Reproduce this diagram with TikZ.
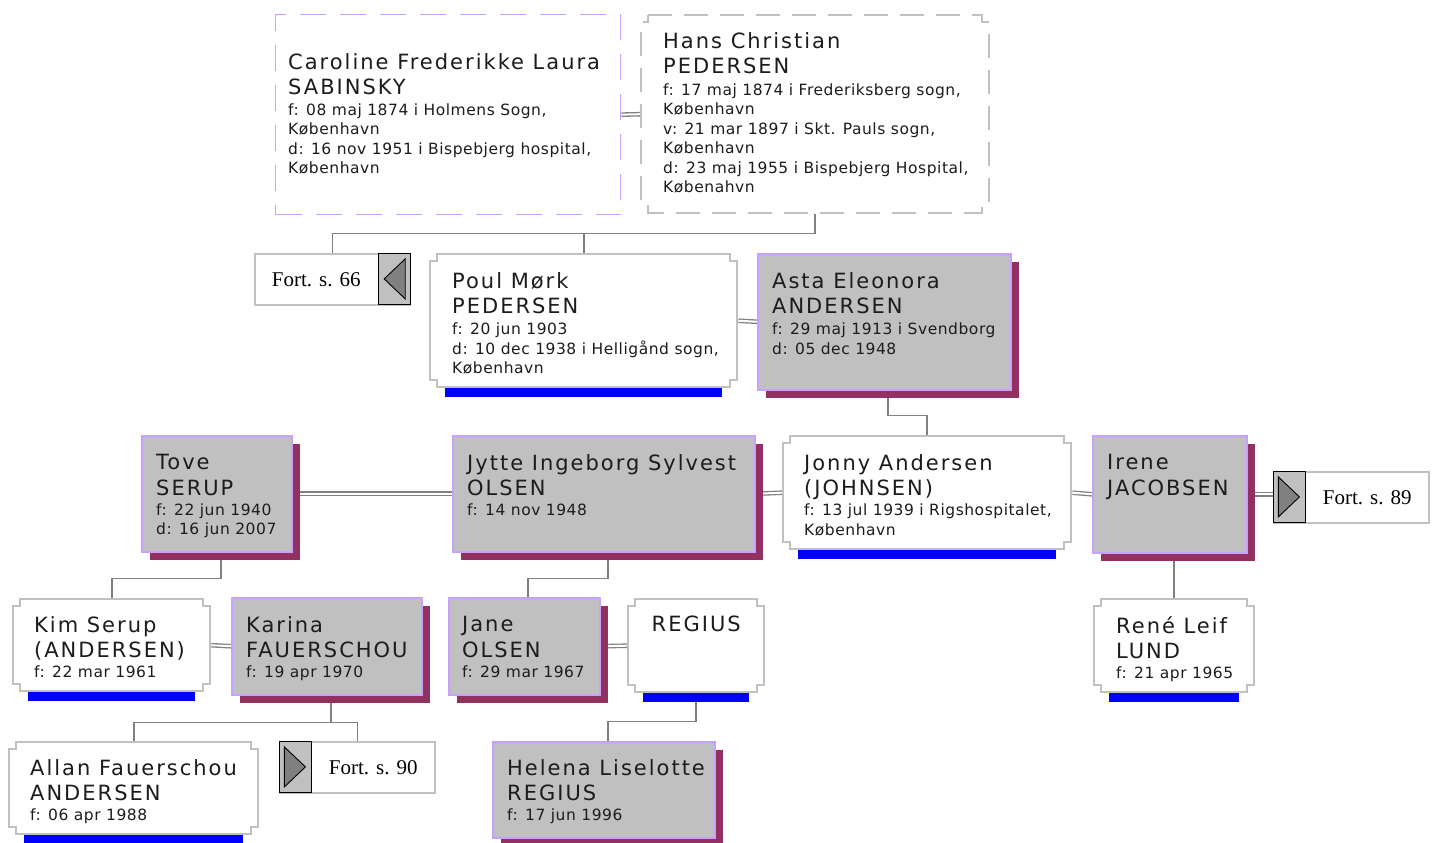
\documentclass[tikz,border=0pt]{standalone}
\usepackage{fontspec}
\setmainfont{Liberation Serif}
\newfontfamily\namefont[LetterSpace=9.5]{DejaVu Sans}
\newfontfamily\datafont[LetterSpace=3.5]{DejaVu Sans}
\newcommand\nm{\namefont\fontsize{21}{25}\selectfont}
\newcommand\dt{\datafont\fontsize{15.5}{19.5}\selectfont\lineskiplimit=-50pt\relax}
\usetikzlibrary{positioning,shadows,backgrounds}

\definecolor{boxgray}{RGB}{192,192,192}
\definecolor{lilac}{RGB}{200,160,255}
\definecolor{plum}{RGB}{146,48,96}
\definecolor{linegray}{RGB}{128,128,128}
\definecolor{inkc}{RGB}{28,28,28}

% outline with stepped corners, drawn inside the node
\newcommand\notchline[1]{%
  \draw[#1] ([shift={(8pt,-1pt)}]path picture bounding box.north west)
    -- ([shift={(-8pt,-1pt)}]path picture bounding box.north east)
    -- ([shift={(-8pt,-8pt)}]path picture bounding box.north east)
    -- ([shift={(-1pt,-8pt)}]path picture bounding box.north east)
    -- ([shift={(-1pt,8pt)}]path picture bounding box.south east)
    -- ([shift={(-8pt,8pt)}]path picture bounding box.south east)
    -- ([shift={(-8pt,1pt)}]path picture bounding box.south east)
    -- ([shift={(8pt,1pt)}]path picture bounding box.south west)
    -- ([shift={(8pt,8pt)}]path picture bounding box.south west)
    -- ([shift={(1pt,8pt)}]path picture bounding box.south west)
    -- ([shift={(1pt,-8pt)}]path picture bounding box.north west)
    -- ([shift={(8pt,-8pt)}]path picture bounding box.north west)
    -- cycle;}

\tikzset{
  gbox/.style={draw=lilac, line width=1.5pt, fill=boxgray, inner sep=0pt, anchor=north west,
    general shadow={fill=plum, shadow xshift=8pt, shadow yshift=-8pt}},
  wbox/.style={fill=white, inner sep=0pt, anchor=north west,
    path picture={\notchline{boxgray, line width=2pt}}},
  fortbox/.style={draw=boxgray, line width=1.6pt, fill=white, inner sep=0pt, anchor=north west,
    minimum width=155pt, minimum height=51pt, text=black, font=\fontsize{21}{24}\selectfont},
  backcell/.style={draw=black, line width=0.8pt, fill=boxgray, inner sep=0pt,
    minimum width=32pt, minimum height=51pt,
    path picture={\draw[fill=linegray, line width=0.9pt]
      ([xshift=-10pt]path picture bounding box.center)
      -- ([shift={(11pt,20pt)}]path picture bounding box.center)
      -- ([shift={(11pt,-20pt)}]path picture bounding box.center) -- cycle;}},
  fwdcell/.style={draw=black, line width=0.8pt, fill=boxgray, inner sep=0pt,
    minimum width=32pt, minimum height=51pt,
    path picture={\draw[fill=linegray, line width=0.9pt]
      ([xshift=10pt]path picture bounding box.center)
      -- ([shift={(-11pt,20pt)}]path picture bounding box.center)
      -- ([shift={(-11pt,-20pt)}]path picture bounding box.center) -- cycle;}},
  ptext/.style={inner sep=0pt, align=left, text=inkc, font=\dt},
  conn/.style={draw=linegray, line width=1.6pt},
  marr/.style={draw=linegray, line width=1.3pt, double=white, double distance=2pt},
  bar/.style={fill=blue}
}

\begin{document}
\begin{tikzpicture}[x=1pt, y=-1pt]
  \useasboundingbox (0,0) rectangle (1438,843);

  % grandparents
  \node[draw=lilac, line width=1.3pt, dash pattern=on 26pt off 14pt, fill=white, inner sep=0pt,
        anchor=north west, minimum width=345pt, minimum height=200pt] (caroline) at (275,14) {};
  \node[wbox, minimum width=350pt, minimum height=200pt,
        path picture={\notchline{boxgray, line width=1.5pt, dash pattern=on 24pt off 12pt}}] (hans) at (640,14) {};

  \node[fortbox] (fort66) at (254,253) {Fort. s. 66\hspace*{32pt}};
  \node[backcell, anchor=north east] (fort66a) at (fort66.north east) {};
  \node[wbox, minimum width=309pt, minimum height=135pt] (poul) at (429,253) {};
  \node[gbox, minimum width=253pt, minimum height=136pt] (asta) at (757,253) {};

  % middle row
  \node[gbox, minimum width=150pt, minimum height=116pt] (tove) at (141,435) {};
  \node[gbox, minimum width=302pt, minimum height=116pt] (jytte) at (452,435) {};
  \node[wbox, minimum width=290pt, minimum height=115pt] (jonny) at (782,435) {};
  \node[gbox, minimum width=154pt, minimum height=117pt] (irene) at (1092,435) {};
  \node[fortbox] (fort89) at (1273,471) {\hspace*{32pt}Fort. s. 89};
  \node[fwdcell, anchor=north west] (fort89a) at (fort89.north west) {};

  % children
  \node[wbox, minimum width=199pt, minimum height=94pt] (kim) at (12,598) {};
  \node[gbox, minimum width=190pt, minimum height=97pt] (karina) at (231,597) {};
  \node[gbox, minimum width=151pt, minimum height=97pt] (jane) at (448,597) {};
  \node[wbox, minimum width=138pt, minimum height=95pt] (regius) at (627,598) {};
  \node[wbox, minimum width=162pt, minimum height=95pt] (rene) at (1093,598) {};

  \node[wbox, minimum width=251pt, minimum height=94pt] (allan) at (8,741) {};
  \node[fortbox] (fort90) at (279,741) {\hspace*{32pt}Fort. s. 90};
  \node[fwdcell, anchor=north west] (fort90a) at (fort90.north west) {};
  \node[gbox, minimum width=222pt, minimum height=96pt] (helena) at (492,741) {};

  \foreach \n in {poul,jonny,kim,regius,rene,allan}
    \fill[bar] ([xshift=16pt]\n.south west) rectangle ([xshift=-16pt,yshift=-9pt]\n.south east);

  \begin{scope}[on background layer]
    \draw[marr] (caroline.east) -- (hans.west);
    \draw[marr] (poul.east) -- (asta.west);
    \draw[marr] (tove.east) -- (jytte.west);
    \draw[marr] (jytte.east) -- (jonny.west);
    \draw[marr] (jonny.east) -- (irene.west);
    \draw[marr] (irene.east) -- (irene.east -| fort89.west);
    \draw[marr] (kim.east) -- (karina.west);
    \draw[marr] (jane.east) -- (regius.west);

    \draw[conn] (hans.south) -- ++(0,19) -| (fort66.north);
    \draw[conn] (hans.south) ++(0,19) -| (poul.north);
    \draw[conn] ([xshift=4pt]asta.south) -- ++(0,25) -| (jonny.north);
    \draw[conn] ([xshift=4pt]tove.south) -- ++(0,26) -| (kim.north);
    \draw[conn] ([xshift=4pt]jytte.south) -- ++(0,26) -| ([xshift=4pt]jane.north);
    \draw[conn] (rene.north) -- (rene.north |- irene.south);
    \draw[conn] ([xshift=4pt]karina.south) -- ++(0,27) -| (allan.north);
    \draw[conn] ([xshift=4pt]karina.south) ++(0,27) -| (fort90.north);
    \draw[conn] (regius.south) -- ++(0,28) -| ([xshift=4pt]helena.north);
  \end{scope}

  % texts
  \node[ptext, below right=39pt and 13pt of caroline.north west] (carolinet)
    {{\nm Caroline Frederikke Laura}\\[6pt]{\nm SABINSKY}\\[1pt]f: 08 maj 1874 i Holmens Sogn,\\København\\d: 16 nov 1951 i Bispebjerg hospital,\\København};
  \node[ptext, below right=18pt and 23pt of hans.north west] (hanst)
    {{\nm Hans Christian}\\[6pt]{\nm PEDERSEN}\\[2pt]f: 17 maj 1874 i Frederiksberg sogn,\\København\\v: 21 mar 1897 i Skt. Pauls sogn,\\København\\d: 23 maj 1955 i Bispebjerg Hospital,\\Købenahvn};
  \node[ptext, below right=19pt and 23pt of poul.north west] (poult)
    {{\nm Poul Mørk}\\[6pt]{\nm PEDERSEN}\\[1.5pt]f: 20 jun 1903\\d: 10 dec 1938 i Helligånd sogn,\\København};
  \node[ptext, below right=19pt and 15pt of asta.north west] (astat)
    {{\nm Asta Eleonora}\\[6pt]{\nm ANDERSEN}\\[1.5pt]f: 29 maj 1913 i Svendborg\\d: 05 dec 1948};
  \node[ptext, below right=19pt and 15pt of tove.north west] (tovet)
    {{\nm Tove}\\[6pt]{\nm SERUP}\\[0.5pt]f: 22 jun 1940\\d: 16 jun 2007};
  \node[ptext, below right=19pt and 15pt of jytte.north west] (jyttet)
    {{\nm Jytte Ingeborg Sylvest}\\[6pt]{\nm OLSEN}\\[0.5pt]f: 14 nov 1948};
  \node[ptext, below right=19pt and 22pt of jonny.north west] (jonnyt)
    {{\nm Jonny Andersen}\\[6pt]{\nm (JOHNSEN)}\\[0.5pt]f: 13 jul 1939 i Rigshospitalet,\\København};
  \node[ptext, below right=19pt and 15pt of irene.north west] (irenet)
    {{\nm Irene}\\[6pt]{\nm JACOBSEN}};
  \node[ptext, below right=18pt and 22pt of kim.north west] (kimt)
    {{\nm Kim Serup}\\[6pt]{\nm (ANDERSEN)}\\[0.5pt]f: 22 mar 1961};
  \node[ptext, below right=19pt and 15pt of karina.north west] (karinat)
    {{\nm Karina}\\[6pt]{\nm FAUERSCHOU}\\[0.5pt]f: 19 apr 1970};
  \node[ptext, below right=19pt and 14pt of jane.north west] (janet)
    {{\nm Jane}\\[6pt]{\nm OLSEN}\\[0.5pt]f: 29 mar 1967};
  \node[ptext, below=18pt of regius.north] (regiust) {\nm REGIUS};
  \node[ptext, below right=18pt and 23pt of rene.north west] (renet)
    {{\nm René Leif}\\[6pt]{\nm LUND}\\[0.5pt]f: 21 apr 1965};
  \node[ptext, below right=18pt and 22pt of allan.north west] (allant)
    {{\nm Allan Fauerschou}\\[6pt]{\nm ANDERSEN}\\[0.5pt]f: 06 apr 1988};
  \node[ptext, below right=18pt and 15pt of helena.north west] (helenat)
    {{\nm Helena Liselotte}\\[6pt]{\nm REGIUS}\\[0.5pt]f: 17 jun 1996};
\end{tikzpicture}
\end{document}
